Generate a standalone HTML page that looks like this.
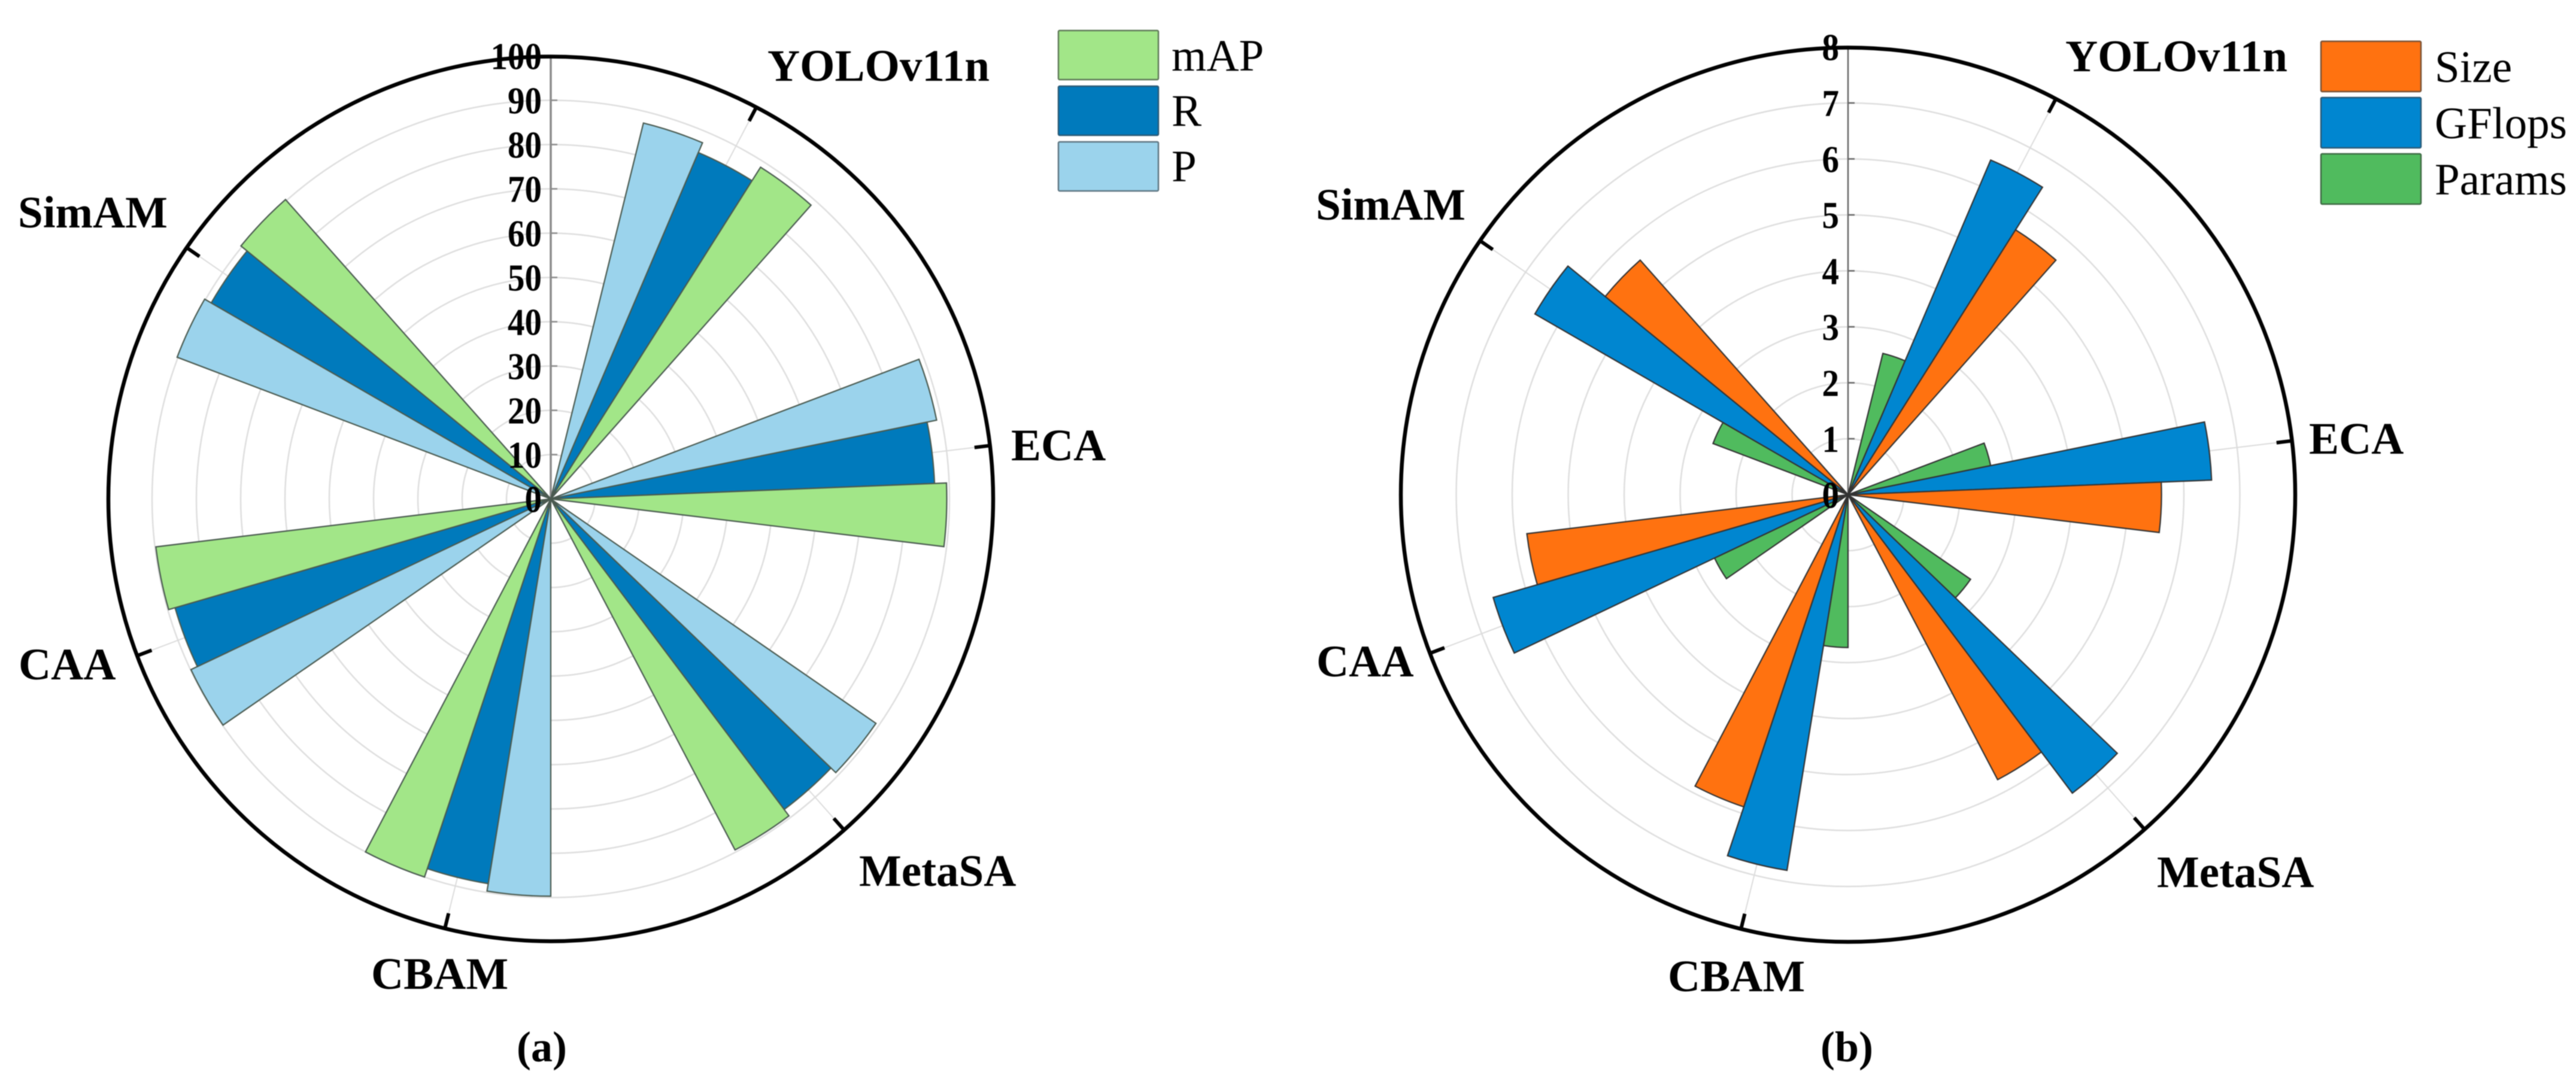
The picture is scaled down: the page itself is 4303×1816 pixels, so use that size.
<!DOCTYPE html>
<html lang="en">
<head>
<meta charset="utf-8">
<title>Polar bar charts of model metrics</title>
<style>
html,body{margin:0;padding:0;background:#fff;width:4303px;height:1816px;overflow:hidden}
svg{display:block;filter:blur(.7px)}
text{font-family:"Liberation Serif",serif;fill:#000}
.cat{font-size:75px;font-weight:700}
.tick{font-size:63px;font-weight:700;text-anchor:end}
.leg{font-size:75px}
.cap{font-size:72px;font-weight:700;text-anchor:middle}
</style>
</head>
<body>
<svg id="figure" xmlns="http://www.w3.org/2000/svg" width="4303" height="1816" viewBox="0 0 4303 1816">
  <rect width="4303" height="1816" fill="#fff"/>

  <g id="chart-a"></g>
  <g id="chart-b"></g>

  <g>
    <text class="cat" x="1282" y="135">YOLOv11n</text>
    <text class="cat" x="1689" y="769">ECA</text>
    <text class="cat" x="1435" y="1480">MetaSA</text>
    <text class="cat" x="620" y="1652">CBAM</text>
    <text class="cat" x="31" y="1135">CAA</text>
    <text class="cat" x="30" y="380">SimAM</text>
  </g>
  <g>
    <text class="cat" x="3450" y="119">YOLOv11n</text>
    <text class="cat" x="3857" y="758">ECA</text>
    <text class="cat" x="3603" y="1482">MetaSA</text>
    <text class="cat" x="2786" y="1656">CBAM</text>
    <text class="cat" x="2199" y="1130">CAA</text>
    <text class="cat" x="2198" y="367">SimAM</text>
  </g>

  <g>
    <g>
      <rect x="1768" y="51" width="167" height="82" rx="2" fill="#a2e688" stroke="#5f7a58" stroke-width="2.5"/>
      <text class="leg" x="1957" y="118">mAP</text>
    </g>
    <g>
      <rect x="1768" y="144" width="167" height="82" rx="2" fill="#007abc" stroke="#2b5a76" stroke-width="2.5"/>
      <text class="leg" x="1957" y="210">R</text>
    </g>
    <g>
      <rect x="1768" y="237" width="167" height="82" rx="2" fill="#9bd3ec" stroke="#5e7682" stroke-width="2.5"/>
      <text class="leg" x="1957" y="303">P</text>
    </g>
  </g>
  <g>
    <g>
      <rect x="3877" y="69" width="167" height="84" rx="2" fill="#ff7210" stroke="#7a5236" stroke-width="2.5"/>
      <text class="leg" x="4067" y="137">Size</text>
    </g>
    <g>
      <rect x="3877" y="163" width="167" height="84" rx="2" fill="#0086d0" stroke="#2a5a78" stroke-width="2.5"/>
      <text class="leg" x="4067" y="231">GFlops</text>
    </g>
    <g>
      <rect x="3877" y="257" width="167" height="84" rx="2" fill="#50bb5e" stroke="#3f6b45" stroke-width="2.5"/>
      <text class="leg" x="4067" y="325">Params</text>
    </g>
  </g>

  <text class="cap" x="905" y="1773">(a)</text>
  <text class="cap" x="3085" y="1773">(b)</text>
</svg>

<script>
// Chart (a): accuracy metrics, per category clockwise from YOLOv11n
const categories = ['YOLOv11n', 'ECA', 'MetaSA', 'CBAM', 'CAA', 'SimAM'];
const valuesP = [87.4, 88.9, 89.2, 89.7, 89.9, 90.2];
const valuesR = [85.0, 86.7, 87.7, 88.0, 88.3, 88.5];
const valuesMAP = [88.6, 89.4, 89.5, 90.0, 89.8, 90.3];
const ticksA = [0, 10, 20, 30, 40, 50, 60, 70, 80, 90, 100];

// Chart (b): model complexity
const valuesParams = [2.6, 2.6, 2.66, 2.73, 2.64, 2.58];
const valuesGFlops = [6.5, 6.5, 6.67, 6.8, 6.6, 6.46];
const valuesSize = [5.6, 5.6, 5.75, 5.88, 5.78, 5.6];
const ticksB = [0, 1, 2, 3, 4, 5, 6, 7, 8];

const NS = 'http://www.w3.org/2000/svg';
const SLOT = 360 / 39;        // one bar's angular width
const GROUP = SLOT * 6;       // bars + gap of a category

function mk(parent, tag, attrs) {
  const el = document.createElementNS(NS, tag);
  for (const k in attrs) el.setAttribute(k, attrs[k]);
  parent.appendChild(el);
  return el;
}

function drawChart(root, cfg) {
  const rScale = v => v / cfg.max * cfg.R;
  const pt = (deg, r) => {
    const a = deg * Math.PI / 180;
    return [cfg.cx + r * Math.sin(a), cfg.cy - r * Math.cos(a)];
  };

  // concentric grid rings
  cfg.ticks.forEach(t => {
    if (t === 0 || t === cfg.max) return;
    const ring = mk(root, 'circle', {cx: cfg.cx, cy: cfg.cy, r: rScale(t), fill: 'none', stroke: '#dedede', 'stroke-width': 2.5});
    
    
  });

  // spokes at category angles
  categories.forEach((c, i) => {
    const deg = SLOT * 3 + GROUP * i;
    const [x, y] = pt(deg, cfg.outer);
    const spoke = mk(root, 'line', {x1: cfg.cx, y1: cfg.cy, x2: x, y2: y, stroke: '#dcdcdc', 'stroke-width': 2});
    
    
  });

  // radial axis
  const [ax, ay] = pt(0, cfg.outer);
  const axis = mk(root, 'line', {x1: cfg.cx, y1: cfg.cy, x2: ax, y2: ay, stroke: cfg.axisColor, 'stroke-width': cfg.axisWidth});
  
  

  cfg.ticks.forEach(t => {
    if (t === 0 || t === cfg.max) return;
    const y = cfg.cy - rScale(t);
    const m = mk(root, 'line', {x1: cfg.cx, y1: y, x2: cfg.cx + 11, y2: y, stroke: cfg.axisColor, 'stroke-width': 2.5});
    
    
  });

  // bars
  cfg.series.forEach((s, si) => {
    s.values.forEach((v, i) => {
      const a0 = SLOT * 1.5 + GROUP * i + SLOT * si;
      const a1 = a0 + SLOT;
      const r = rScale(v);
      const [x0, y0] = pt(a0, r);
      const [x1, y1] = pt(a1, r);
      const d = `M${cfg.cx} ${cfg.cy}L${x0} ${y0}A${r} ${r} 0 0 1 ${x1} ${y1}Z`;
      const bar = mk(root, 'path', {d, fill: s.color, stroke: cfg.barStroke, 'stroke-width': 2.2, 'stroke-linejoin': 'miter'});
      
      
    });
  });

  // outer ring
  const outer = mk(root, 'circle', {cx: cfg.cx, cy: cfg.cy, r: cfg.outer, fill: 'none', stroke: '#000', 'stroke-width': 6.5});
  
  

  // outer category ticks
  categories.forEach((c, i) => {
    const deg = SLOT * 3 + GROUP * i;
    const [x1, y1] = pt(deg, cfg.outer);
    const [x2, y2] = pt(deg, cfg.outer - 26);
    const tk = mk(root, 'line', {x1, y1, x2, y2, stroke: '#000', 'stroke-width': 6});
    
    
  });

  // tick labels (slightly condensed digits, as in the reference)
  cfg.ticks.forEach(t => {
    const txt = String(t);
    const lab = mk(root, 'text', {class: 'tick', x: cfg.cx - 15, y: cfg.cy - rScale(t) + 22, textLength: txt.length * 28.5, lengthAdjust: 'spacingAndGlyphs'});
    lab.textContent = txt;
    
    
  });
}

drawChart(document.getElementById('chart-a'), {
  cx: 920, cy: 833.5, R: 740, outer: 739, max: 100, ticks: ticksA,
  axisColor: '#8a8a8a', axisWidth: 3.5, barStroke: '#4a5a50',
  series: [
    {name: 'p', color: '#9bd3ec', values: valuesP},
    {name: 'r', color: '#007abc', values: valuesR},
    {name: 'map', color: '#a2e688', values: valuesMAP}
  ]
});

drawChart(document.getElementById('chart-b'), {
  cx: 3087, cy: 826.5, R: 748, outer: 747, max: 8, ticks: ticksB,
  axisColor: '#666', axisWidth: 2.5, barStroke: '#333',
  series: [
    {name: 'params', color: '#50bb5e', values: valuesParams},
    {name: 'gflops', color: '#0086d0', values: valuesGFlops},
    {name: 'size', color: '#ff7210', values: valuesSize}
  ]
});
</script>
</body>
</html>
